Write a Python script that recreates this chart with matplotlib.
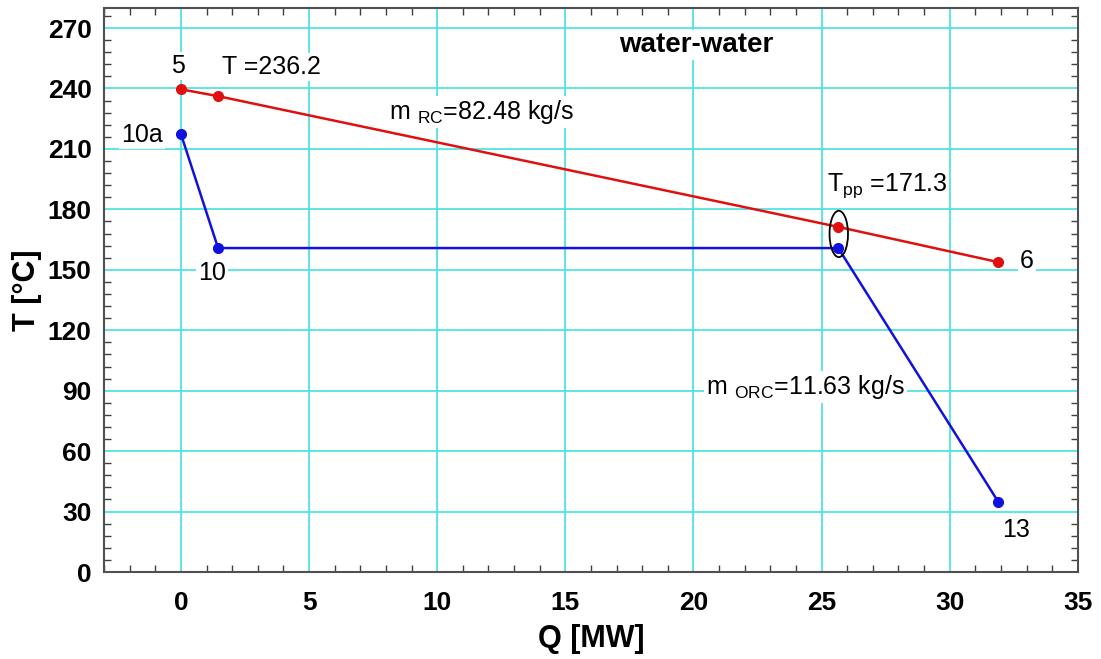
import matplotlib
matplotlib.use("Agg")
from matplotlib import pyplot as plt
from matplotlib.patches import Ellipse
from matplotlib.ticker import MultipleLocator

plt.rcParams['font.family'] = ['Liberation Sans', 'DejaVu Sans']
plt.rcParams['mathtext.default'] = 'regular'

# hot side (red) and cold side (blue) of the heat exchanger
q_hot = [0.0, 1.45, 25.65, 31.9]
t_hot = [239.6, 236.2, 171.3, 153.8]
q_cold = [0.0, 1.45, 25.65, 31.9]
t_cold = [217.4, 160.8, 160.8, 34.7]

grid_col = '#50e3e3'

fig = plt.figure(figsize=(11.01, 6.59), dpi=100)
ax = fig.add_axes([0.0945, 0.132, 0.8845, 0.856])

ax.plot(q_hot, t_hot, color='#e01010', lw=1.8, marker='o', ms=7, zorder=3)
ax.plot(q_cold, t_cold, color='#1010e0', lw=1.8, marker='o', ms=7, zorder=3)

ax.add_patch(Ellipse((25.67, 167.8), 0.72, 23, fill=False, ec='black', lw=1.3, zorder=4))

ax.set_xlim(-3, 35)
ax.set_ylim(0, 280)
ax.xaxis.set_major_locator(MultipleLocator(5))
ax.xaxis.set_minor_locator(MultipleLocator(1))
ax.yaxis.set_major_locator(MultipleLocator(30))
ax.yaxis.set_minor_locator(MultipleLocator(6))
ax.grid(True, which='major', color=grid_col, lw=1.3, zorder=0)
ax.set_axisbelow(True)
ax.tick_params(which='both', direction='in', top=True, right=True, color='#404040')
ax.tick_params(which='major', length=0, labelsize=19)
ax.tick_params(axis='x', which='major', pad=14)
ax.tick_params(axis='y', which='major', pad=9)
ax.tick_params(which='minor', length=5, width=1)
for lab in ax.get_xticklabels() + ax.get_yticklabels():
    lab.set_fontweight('bold')
for s in ax.spines.values():
    s.set_color('#505050')
    s.set_linewidth(1.5)

ax.set_xlabel('Q [MW]', fontsize=22, fontweight='bold', labelpad=6)
ax.set_ylabel('T [°C]', fontsize=22, fontweight='bold', labelpad=4)

box = dict(facecolor='white', edgecolor='none', pad=1.5)
fs = 18
ax.text(-0.1, 251, '5', fontsize=fs, ha='center', va='center', bbox=box)
ax.text(1.6, 250.5, 'T =236.2', fontsize=fs, ha='left', va='center', bbox=box)
ax.text(-0.7, 217, '10a', fontsize=fs, ha='right', va='center', bbox=box)
ax.text(1.2, 148.5, '10', fontsize=fs, ha='center', va='center', bbox=box)
ax.text(8.1, 228.5, 'm $_{RC}$=82.48 kg/s', fontsize=fs, ha='left', va='center', bbox=box)
ax.text(25.2, 192, 'T$_{pp}$ =171.3', fontsize=fs, ha='left', va='center', bbox=box)
ax.text(33.0, 154.5, '6', fontsize=fs, ha='center', va='center', bbox=box)
ax.text(20.5, 92, 'm $_{ORC}$=11.63 kg/s', fontsize=fs, ha='left', va='center', bbox=box)
ax.text(32.6, 21, '13', fontsize=fs, ha='center', va='center', bbox=box)
ax.text(20.1, 261.5, 'water-water', fontsize=20, fontweight='bold', ha='center', va='center', bbox=box)

fig.savefig('out.png', dpi=100)
